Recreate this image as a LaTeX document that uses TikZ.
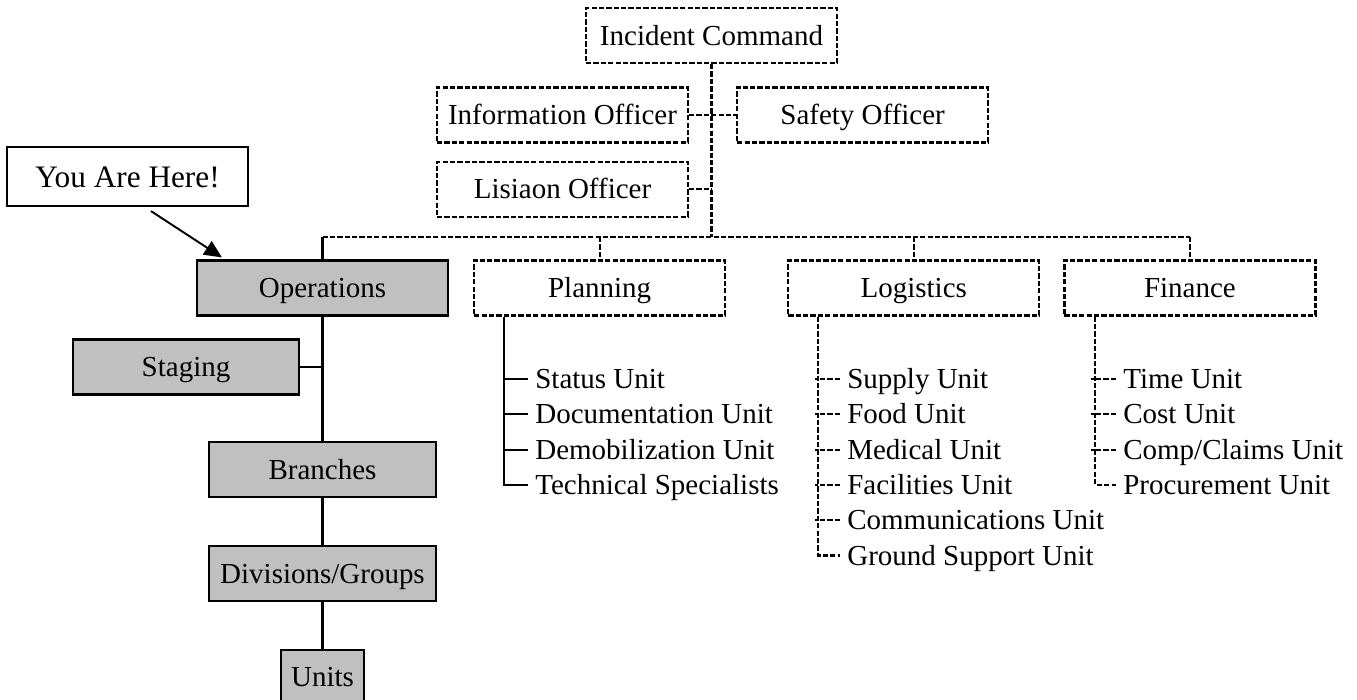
\documentclass[tikz,border=0pt]{standalone}
\usepackage{fontspec}
\setmainfont{Liberation Serif}
\usetikzlibrary{arrows.meta,positioning}
\definecolor{opsgrey}{HTML}{C0C0C0}
\tikzset{
  dbox/.style={draw,line width=1.25pt,dash pattern=on 3pt off 1.2pt,minimum width=5.02cm,minimum height=1.1cm,inner sep=0pt,text height=11pt,text depth=0pt,font=\fontsize{16.5}{19.8}\selectfont},
  gbox/.style={draw,fill=opsgrey,line width=1.25pt,minimum height=1.1cm,inner sep=0pt,text height=11pt,text depth=0pt,font=\fontsize{16.5}{19.8}\selectfont},
  hbox/.style={draw,fill=white,line width=1.25pt,minimum width=4.82cm,minimum height=1.18cm,inner sep=0pt,text height=12pt,text depth=0pt,font=\fontsize{17.8}{21}\selectfont},
  unit/.style={anchor=west,inner xsep=0.14cm,inner ysep=0pt,text height=11pt,text depth=0pt,font=\fontsize{16.5}{19.8}\selectfont},
  dline/.style={line width=1.15pt,dash pattern=on 3pt off 1.2pt},
  sline/.style={line width=1.15pt},
  arr/.style={-{Triangle[length=10pt,width=9pt]},line width=1.1pt},
}
\begin{document}
\begin{tikzpicture}[x=0.02cm,y=-0.02cm]
  \useasboundingbox (0,0) rectangle (1357,700);
  % command staff
  \node[dbox] (ic) at (711.5,35.5) {Incident Command};
  \node[dbox] (info) at (562.5,115) {Information Officer};
  \node[dbox,right=0.94cm of info] (safe) {Safety Officer};
  \node[dbox,below=0.34cm of info] (liai) {Lisiaon Officer};
  \coordinate (bus) at (711.5,237);
  \draw[dline] (ic) -- (bus);
  \draw[dline] (info) -- (safe);
  \draw[dline] (liai.east) -- (liai.east -| bus);
  % sections
  \node[gbox,minimum width=5.02cm] (ops) at (322.5,288) {Operations};
  \node[dbox,right=0.48cm of ops] (plan) {Planning};
  \node[dbox,right=1.22cm of plan] (logi) {Logistics};
  \node[dbox,right=0.46cm of logi] (fin) {Finance};
  \draw[dline] (ops.north |- bus) -- (fin.north |- bus);
  \draw[sline] (ops.north |- bus) -- (ops.north);
  \foreach \b in {plan,logi,fin} \draw[dline] (\b.north |- bus) -- (\b.north);
  % operations chain
  \node[gbox,minimum width=4.52cm] (stag) at (186,367) {Staging};
  \node[gbox,minimum width=4.54cm] (bran) at (322.5,469.5) {Branches};
  \node[gbox,minimum width=4.54cm,below=0.94cm of bran] (divg) {Divisions/Groups};
  \node[gbox,minimum width=1.66cm,minimum height=1.06cm,below=0.94cm of divg] (unts) {Units};
  \draw[line width=1.9pt] (ops.south) -- (ops.south |- stag.east);
  \draw[sline] (stag.east) -- (ops.south |- stag.east) -- (bran.north);
  \draw[sline] (bran) -- (divg);
  \draw[sline] (divg) -- (unts);
  \node[hbox] (here) at (127.5,176.5) {You Are Here!};
  \draw[arr] ([xshift=0.47cm,yshift=-0.08cm]here.south) -- ([xshift=0.52cm,yshift=0.04cm]ops.north west);
  % unit lists
  \foreach \t [count=\i] in {Status Unit,Documentation Unit,Demobilization Unit,Technical Specialists}
    \node[unit] (plan\i) at (528,{379+35.3*(\i-1)}) {\t};
  \foreach \t [count=\i] in {Supply Unit,Food Unit,Medical Unit,Facilities Unit,Communications Unit,Ground Support Unit}
    \node[unit] (logi\i) at (840,{379+35.3*(\i-1)}) {\t};
  \foreach \t [count=\i] in {Time Unit,Cost Unit,Comp/Claims Unit,Procurement Unit}
    \node[unit] (fin\i) at (1116,{379+35.3*(\i-1)}) {\t};
  \draw[sline] ([xshift=0.62cm]plan.south west) |- (plan4.west);
  \foreach \i in {1,2,3} \draw[sline] (plan\i.west) -- ++(-25,0);
  \draw[dline] ([xshift=0.62cm]logi.south west) |- (logi6.west);
  \foreach \i in {1,...,5} \draw[dline] (logi\i.west) -- ++(-25,0);
  \draw[dline] ([xshift=0.64cm]fin.south west) |- (fin4.west);
  \foreach \i in {1,2,3} \draw[dline] (fin\i.west) -- ++(-25,0);
\end{tikzpicture}
\end{document}
